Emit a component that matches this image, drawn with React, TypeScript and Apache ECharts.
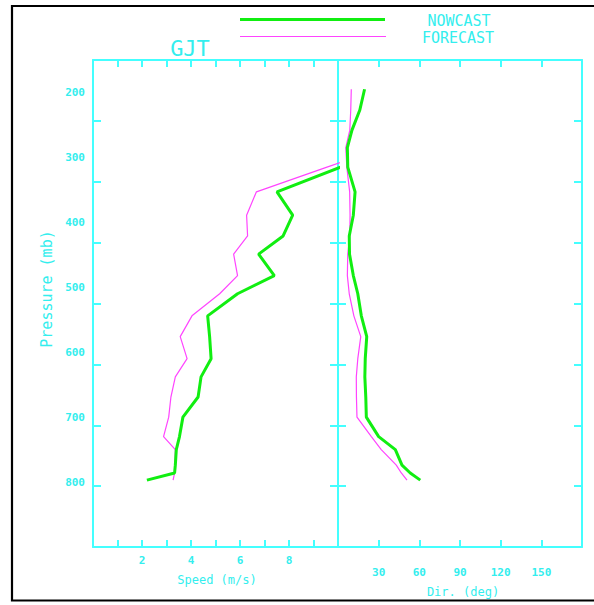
import React, { useEffect, useRef } from "react";
import * as echarts from "echarts";

// Pressure levels (mb) of the profile, top to bottom
const pressureLevels = [195, 227, 258, 285, 315, 353, 389, 421, 449, 482, 510, 544, 576, 610, 638, 669, 700, 730, 750, 774, 786, 797];
// Wind speed (m/s)
const nowcastSpeed = [16, 15, 13.5, 12.5, 10.1, 7.51, 8.15, 7.76, 6.76, 7.4, 5.9, 4.68, 4.76, 4.82, 4.41, 4.29, 3.67, 3.53, 3.4, 3.36, 3.33, 2.2];
const forecastSpeed = [16, 14.5, 13, 11.9, 9.55, 6.67, 6.27, 6.31, 5.74, 5.9, 5.17, 4.04, 3.56, 3.84, 3.36, 3.18, 3.09, 2.88, 3.36, 3.34, 3.33, 3.27];
// Wind direction (deg)
const nowcastDir = [19.6, 16.1, 10.3, 6.9, 7.2, 12.6, 11.3, 8.3, 8.5, 11.3, 14.6, 17.2, 21.2, 20.1, 19.8, 20.5, 20.9, 30.0, 42.3, 47.2, 53.3, 60.7];
const forecastDir = [9.8, 9.4, 8.7, 5.75, 6.5, 8.6, 8.9, 8.7, 7.2, 6.9, 8.3, 11.7, 16.8, 14.6, 13.5, 13.6, 14.0, 24.6, 31.9, 43.0, 46.7, 50.9];

// Axis labels / ticks
const pressureLabels = [200, 300, 400, 500, 600, 700, 800];
const pressureTicks = [243.75, 337.5, 431.25, 525, 618.75, 712.5, 806.25];
const speedLabels = [2, 4, 6, 8];
const speedTicks = [1, 2, 3, 4, 5, 6, 7, 8, 9];
const dirLabels = [30, 60, 90, 120, 150];
const dirTicks = [30, 60, 90, 120, 150];

const CYAN = "#44ffff";
const TEXT = "#33eeee";
const GREEN = "#11ee11";
const MAGENTA = "#ff44ff";
const MONO = "DejaVu Sans Mono";

export default function App() {
  const ref = useRef<HTMLDivElement>(null);
  useEffect(() => {
    if (!ref.current) return;
    const chart = echarts.init(ref.current, null, { renderer: "svg" });
    const line = { show: true, onZero: false, lineStyle: { color: CYAN, width: 2 } };
    const baseX = (grid: number, pos: string, min: number, max: number, ticks: number[], labels: number[] | null, margin: number) => ({
      type: "value",
      gridIndex: grid,
      position: pos,
      min,
      max,
      axisLine: line,
      splitLine: { show: false },
      axisTick: { show: true, inside: true, length: 7, customValues: ticks, lineStyle: { color: CYAN, width: 2 } },
      axisLabel: labels
        ? { show: true, customValues: labels, margin, color: TEXT, fontFamily: MONO, fontSize: 11, fontWeight: "bold" }
        : { show: false },
    });
    const baseY = (grid: number, pos: string, showLabels: boolean) => ({
      type: "value",
      gridIndex: grid,
      position: pos,
      min: 150,
      max: 900,
      inverse: true,
      axisLine: line,
      splitLine: { show: false },
      axisTick: { show: true, inside: true, length: 8, customValues: pressureTicks, lineStyle: { color: CYAN, width: 2 } },
      axisLabel: showLabels
        ? { show: true, customValues: pressureLabels, margin: 8, color: TEXT, fontFamily: MONO, fontSize: 11, fontWeight: "bold" }
        : { show: false },
    });
    const pairs = (xs: number[]) => xs.map((v, i) => [v, pressureLevels[i]]);
    chart.setOption({
      animation: false,
      backgroundColor: "#ffffff",
      grid: [
        { left: 93, top: 60, width: 245, height: 487 },
        { left: 338, top: 60, width: 244, height: 487 },
      ],
      xAxis: [
        baseX(0, "bottom", 0, 10, speedTicks, speedLabels, 8),
        baseX(0, "top", 0, 10, speedTicks, null, 8),
        baseX(1, "bottom", 0, 180, dirTicks, dirLabels, 20),
        baseX(1, "top", 0, 180, dirTicks, null, 8),
      ],
      yAxis: [
        baseY(0, "left", true),
        baseY(0, "right", false),
        baseY(1, "left", false),
        baseY(1, "right", false),
      ],
      series: [
        { type: "line", name: "FORECAST", xAxisIndex: 0, yAxisIndex: 0, data: pairs(forecastSpeed), showSymbol: false, lineStyle: { color: MAGENTA, width: 1.2 }, clip: true },
        { type: "line", name: "NOWCAST", xAxisIndex: 0, yAxisIndex: 0, data: pairs(nowcastSpeed), showSymbol: false, lineStyle: { color: GREEN, width: 3 }, clip: true },
        { type: "line", name: "FORECAST dir", xAxisIndex: 2, yAxisIndex: 2, data: pairs(forecastDir), showSymbol: false, lineStyle: { color: MAGENTA, width: 1.2 }, clip: true },
        { type: "line", name: "NOWCAST dir", xAxisIndex: 2, yAxisIndex: 2, data: pairs(nowcastDir), showSymbol: false, lineStyle: { color: GREEN, width: 3 }, clip: true },
      ],
      graphic: [
        { type: "rect", shape: { x: 12, y: 6, width: 700, height: 594.5 }, style: { fill: "none", stroke: "#000", lineWidth: 2.2 }, silent: true },
        { type: "line", shape: { x1: 240, y1: 19.5, x2: 385, y2: 19.5 }, style: { stroke: GREEN, lineWidth: 3 } },
        { type: "line", shape: { x1: 240, y1: 36.5, x2: 386, y2: 36.5 }, style: { stroke: MAGENTA, lineWidth: 1.2 } },
        { type: "text", x: 459, y: 21, style: { text: "NOWCAST", fill: TEXT, font: `15px '${MONO}'`, align: "center", verticalAlign: "middle" } },
        { type: "text", x: 458, y: 37.5, style: { text: "FORECAST", fill: TEXT, font: `15px '${MONO}'`, align: "center", verticalAlign: "middle" } },
        { type: "text", x: 190, y: 48, style: { text: "GJT", fill: TEXT, font: `22px '${MONO}'`, align: "center", verticalAlign: "middle" } },
        { type: "text", x: 47, y: 289, rotation: Math.PI / 2, style: { text: "Pressure (mb)", fill: TEXT, font: `15px '${MONO}'`, align: "center", verticalAlign: "middle" } },
        { type: "text", x: 217, y: 580, style: { text: "Speed (m/s)", fill: TEXT, font: `12px '${MONO}'`, align: "center", verticalAlign: "middle" } },
        { type: "text", x: 463, y: 592, style: { text: "Dir. (deg)", fill: TEXT, font: `12px '${MONO}'`, align: "center", verticalAlign: "middle" } },
      ],
    });
    return () => chart.dispose();
  }, []);
  return <div ref={ref} style={{ position: "absolute", left: 0, top: 0, width: 594, height: 605 }} />;
}
